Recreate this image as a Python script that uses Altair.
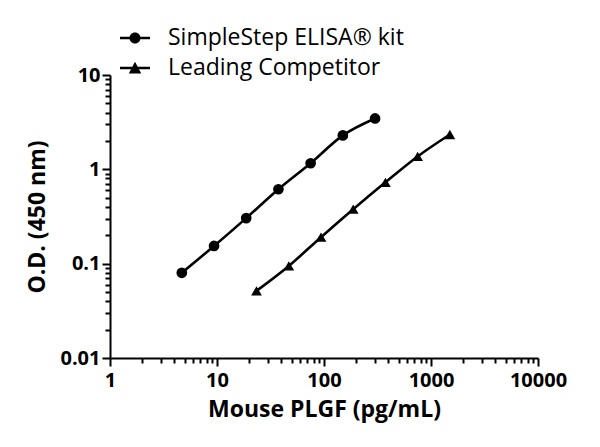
import altair as alt
import pandas as pd

series_names = ["SimpleStep ELISA® kit", "Leading Competitor"]
kit_conc = [4.69, 9.38, 18.75, 37.5, 75, 150, 300]
kit_od = [0.080, 0.154, 0.304, 0.615, 1.16, 2.29, 3.46]
comp_conc = [23.4, 46.9, 93.75, 187.5, 375, 750, 1500]
comp_od = [0.0515, 0.0946, 0.191, 0.378, 0.729, 1.37, 2.34]

x_ticks = [round(m * 10 ** k, 6) for k in range(0, 4) for m in range(1, 10)] + [10000]
y_ticks = [round(m * 10 ** k, 6) for k in range(-2, 1) for m in range(1, 10)] + [10]

df = pd.DataFrame({
    "series": [series_names[0]] * len(kit_conc) + [series_names[1]] * len(comp_conc),
    "conc": kit_conc + comp_conc,
    "od": kit_od + comp_od,
})

FONT = "Open Sans"
major = "abs(log(datum.value)/LN10 - round(log(datum.value)/LN10)) < 0.001"

x_enc = alt.X("conc:Q", title="Mouse PLGF (pg/mL)",
              scale=alt.Scale(type="log", domain=[1, 10000], nice=False),
              axis=alt.Axis(values=x_ticks, format="~g", labelFlush=False,
                            labelExpr=f"({major}) ? datum.label : ''",
                            tickSize={"condition": {"test": major, "value": 8}, "value": 5},
                            labelPadding=4, titlePadding=8))
y_enc = alt.Y("od:Q", title="O.D. (450 nm)",
              scale=alt.Scale(type="log", domain=[0.01, 10], nice=False),
              axis=alt.Axis(values=y_ticks, format="~g", labelFlush=False,
                            labelExpr=f"({major}) ? datum.label : ''",
                            tickSize={"condition": {"test": major, "value": 8}, "value": 5},
                            labelPadding=2, titlePadding=10))

base = alt.Chart(df)

lines = base.mark_line(color="black", strokeWidth=2.6, interpolate="monotone").encode(
    x=x_enc, y=y_enc, detail="series:N")

points = base.mark_point(filled=True, size=115, opacity=1, color="black").encode(
    x=x_enc, y=y_enc,
    shape=alt.Shape("series:N", scale=alt.Scale(domain=series_names, range=["circle", "triangle-up"]),
                    legend=None))

# legend glyphs: a filled bar (the line) plus the marker, all wound clockwise
circle_path = ("M-1.25,-0.1H1.25V0.1H-1.25Z"
               "M0.46,0A0.46,0.46,0,1,1,-0.46,0A0.46,0.46,0,1,1,0.46,0Z")
tri_path = ("M-1.25,-0.1H1.25V0.1H-1.25Z"
            "M0,-0.52L0.52,0.45L-0.52,0.45Z")

legend_pts = base.mark_point(filled=True, opacity=0, color="black").encode(
    x=x_enc, y=y_enc,
    shape=alt.Shape("series:N",
                    scale=alt.Scale(domain=series_names, range=[circle_path, tri_path]),
                    legend=alt.Legend(orient="none", legendX=13, legendY=-49, title=None,
                                      symbolSize=576, symbolStrokeWidth=0,
                                      symbolFillColor="black",
                                      symbolOpacity=1, labelFont=FONT, labelFontSize=23,
                                      labelColor="black", labelOffset=21, rowPadding=6,
                                      labelLimit=400)))

chart = alt.layer(lines, points, legend_pts).resolve_scale(shape="independent").properties(
    width=428, height=283,
    padding={"left": 102, "top": 67, "right": 46, "bottom": 70},
    autosize=alt.AutoSizeParams(type="none"),
).configure_view(stroke=None).configure_axis(
    domainColor="black", domainWidth=2, tickColor="black", tickWidth=2,
    labelFont=FONT, labelFontSize=20, labelFontWeight="bold", labelColor="black",
    titleFont=FONT, titleFontSize=23, titleFontWeight="bold", titleColor="black",
    grid=False,
)

chart.save("out.html", embed_options={"renderer": "svg", "actions": False})
